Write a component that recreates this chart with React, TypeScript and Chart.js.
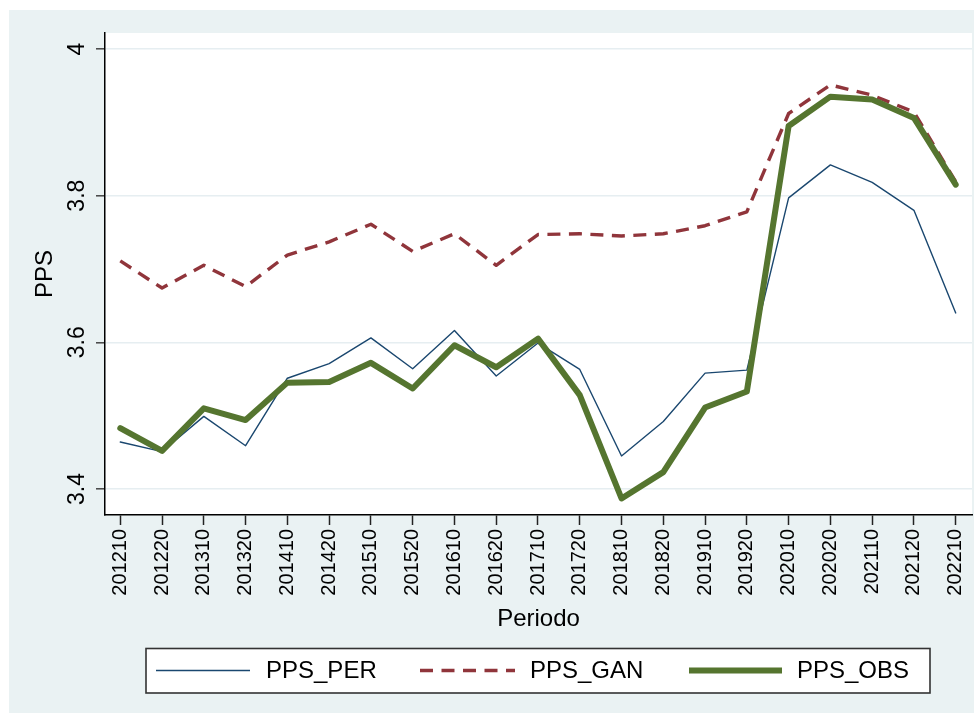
import React, { useEffect, useRef } from 'react';
import { Chart, registerables } from 'chart.js';

Chart.register(...registerables);

const periods = [
  '201210', '201220', '201310', '201320', '201410', '201420', '201510', '201520',
  '201610', '201620', '201710', '201720', '201810', '201820', '201910', '201920',
  '202010', '202020', '202110', '202120', '202210',
];
const ppsPer = [3.464, 3.451, 3.499, 3.459, 3.551, 3.571, 3.606, 3.564, 3.616, 3.554, 3.599, 3.563, 3.445, 3.492, 3.558, 3.562, 3.797, 3.842, 3.818, 3.78, 3.64];
const ppsGan = [3.711, 3.674, 3.705, 3.676, 3.719, 3.737, 3.761, 3.724, 3.748, 3.705, 3.747, 3.748, 3.745, 3.748, 3.759, 3.778, 3.912, 3.951, 3.937, 3.914, 3.819];
const ppsObs = [3.483, 3.452, 3.51, 3.494, 3.545, 3.546, 3.572, 3.537, 3.596, 3.566, 3.605, 3.528, 3.387, 3.423, 3.511, 3.533, 3.895, 3.935, 3.931, 3.906, 3.815];
const yTicks = [3.4, 3.6, 3.8, 4];
const seriesNames = ['PPS_PER', 'PPS_GAN', 'PPS_OBS'];
const yTitle = 'PPS';
const xTitle = 'Periodo';

const FONT = '"Liberation Sans", Arial, Helvetica, sans-serif';
const BG = '#EAF2F3';
const COLORS = ['#1a476f', '#90353b', '#55752f'];
const WIDTHS = [1.4, 3.4, 6];
const DASHES: number[][] = [[], [13, 8.5], []];

const decor = {
  id: 'decor',
  beforeDraw(chart: any) {
    const { ctx, chartArea: a, width, height } = chart;
    ctx.save();
    ctx.fillStyle = '#ffffff';
    ctx.fillRect(0, 0, width, height);
    ctx.fillStyle = BG;
    ctx.fillRect(9, 10, width - 9, height - 10);
    ctx.fillStyle = '#ffffff';
    ctx.fillRect(a.left, a.top, a.right - a.left, a.bottom - a.top);
    ctx.restore();
  },
  afterDraw(chart: any) {
    const { ctx } = chart;
    const ys = chart.scales.y;
    ctx.save();
    ctx.fillStyle = '#000';
    ctx.font = `23px ${FONT}`;
    ctx.textAlign = 'center';
    ctx.textBaseline = 'alphabetic';
    for (const t of ys.ticks) {
      const py = ys.getPixelForValue(t.value);
      ctx.save();
      ctx.translate(84, py);
      ctx.rotate(-Math.PI / 2);
      ctx.fillText(String(t.value), 0, 0);
      ctx.restore();
    }
    ctx.restore();

    // legend
    ctx.save();
    ctx.fillStyle = '#ffffff';
    ctx.fillRect(146, 648.5, 784, 44.5);
    ctx.strokeStyle = '#333';
    ctx.lineWidth = 1.6;
    ctx.strokeRect(146, 648.5, 784, 44.5);
    const ly = 670.5;
    const items = [
      { x0: 156, x1: 250, tx: 266 },
      { x0: 420, x1: 515, tx: 530 },
      { x0: 689, x1: 782, tx: 797 },
    ];
    items.forEach((it, i) => {
      ctx.beginPath();
      ctx.strokeStyle = COLORS[i];
      ctx.lineWidth = WIDTHS[i];
      ctx.setLineDash(DASHES[i]);
      ctx.lineCap = 'butt';
      ctx.moveTo(it.x0, ly);
      ctx.lineTo(it.x1, ly);
      ctx.stroke();
      ctx.setLineDash([]);
      ctx.fillStyle = '#000';
      ctx.font = `24px ${FONT}`;
      ctx.textAlign = 'left';
      ctx.textBaseline = 'middle';
      ctx.fillText(seriesNames[i], it.tx, ly + 1);
    });
    ctx.restore();
  },
};

export default function App() {
  const ref = useRef<HTMLCanvasElement | null>(null);
  useEffect(() => {
    if (!ref.current) return;
    const series = [ppsPer, ppsGan, ppsObs];
    const chart = new Chart(ref.current, {
      type: 'line',
      data: {
        datasets: series.map((s, i) => ({
          label: seriesNames[i],
          data: s.map((v, k) => ({ x: k, y: v })),
          borderColor: COLORS[i],
          borderWidth: WIDTHS[i],
          borderDash: DASHES[i],
          borderJoinStyle: 'round' as const,
          borderCapStyle: i === 1 ? ('butt' as const) : ('round' as const),
          pointRadius: 0,
          tension: 0,
          fill: false,
          order: 3 - i,
        })),
      },
      options: {
        responsive: false,
        maintainAspectRatio: false,
        animation: false,
        devicePixelRatio: 1,
        layout: { padding: { left: 0, top: 33, right: 2, bottom: 0 } },
        plugins: { legend: { display: false }, tooltip: { enabled: false }, title: { display: false } },
        scales: {
          x: {
            type: 'linear',
            min: -0.366,
            max: 20.39,
            afterBuildTicks: (s: any) => {
              s.ticks = periods.map((_, i) => ({ value: i }));
            },
            afterFit: (s: any) => {
              s.height = 198;
              s.paddingLeft = 0;
              s.paddingRight = 0;
            },
            ticks: {
              autoSkip: false,
              minRotation: 90,
              maxRotation: 90,
              padding: 4,
              color: '#000',
              font: { family: FONT, size: 20 },
              callback: (v: any) => periods[v as number] ?? '',
            },
            grid: {
              display: true,
              drawOnChartArea: false,
              drawTicks: true,
              tickLength: 10,
              tickColor: '#222',
              tickWidth: 1.5,
            },
            border: { display: true, color: '#000', width: 1.5 },
            title: {
              display: true,
              text: xTitle,
              color: '#000',
              font: { family: FONT, size: 24 },
              padding: { top: 0, bottom: 79 },
            },
          },
          y: {
            type: 'linear',
            min: 3.3645,
            max: 4.0218,
            afterBuildTicks: (s: any) => {
              s.ticks = yTicks.map((v) => ({ value: v }));
            },
            afterFit: (s: any) => {
              s.width = 105;
              s.paddingTop = 0;
              s.paddingBottom = 0;
            },
            ticks: { display: false },
            grid: {
              display: true,
              color: '#E6EEF1',
              lineWidth: 1.6,
              drawTicks: true,
              tickLength: 9,
              tickColor: '#444',
              tickWidth: 1.5,
            },
            border: { display: true, color: '#000', width: 1.5 },
            title: {
              display: true,
              text: yTitle,
              color: '#000',
              font: { family: FONT, size: 24 },
              padding: { top: 30.6, bottom: 0 },
            },
          },
        },
      },
      plugins: [decor],
    });
    return () => chart.destroy();
  }, []);
  return (
    <div style={{ position: 'absolute', left: 0, top: 0, width: 974, height: 713 }}>
      <canvas ref={ref} width={974} height={713} style={{ display: 'block' }} />
    </div>
  );
}
